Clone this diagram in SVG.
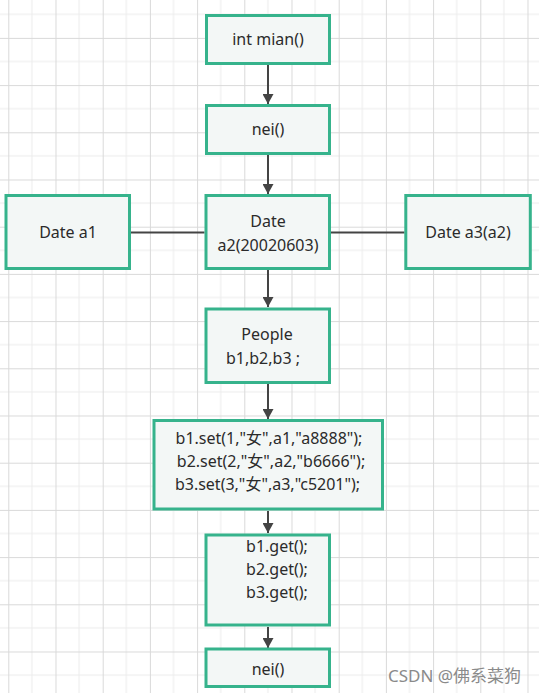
<svg xmlns="http://www.w3.org/2000/svg" width="539" height="693" viewBox="0 0 539 693">
  <style>
    .box { fill: #f3f7f6; stroke: #36b38c; stroke-width: 3; }
    .t { font-family: "Noto Sans", "Noto Sans CJK SC", sans-serif; font-size: 16px; fill: #2b2b2b; text-anchor: middle; }
    .edge { stroke: #444444; stroke-width: 2; fill: none; }
    .wm { font-family: "Noto Sans", "Noto Sans CJK SC", sans-serif; font-size: 17px; fill: #8a8a8a; }
  </style>
  <defs>
    <pattern id="grid" patternUnits="userSpaceOnUse" x="8.3" y="-9.3" width="47.2" height="47.2">
      <path d="M23.6 0 V47.2 M0 23.6 H47.2" stroke="#ebebeb" stroke-width="1" fill="none"/>
      <path d="M0.5 0 V47.2 M0 0.5 H47.2" stroke="#d9d9d9" stroke-width="1" fill="none"/>
    </pattern>
    <marker id="arrow" markerUnits="userSpaceOnUse" markerWidth="12" markerHeight="11" refX="10" refY="5.5" orient="auto">
      <path d="M0 0 L10 5.5 L0 11 Z" fill="#444444"/>
    </marker>
  </defs>
  <rect x="0" y="0" width="539" height="693" fill="#ffffff"/>
  <rect x="0" y="0" width="539" height="693" fill="url(#grid)"/>

  <g id="connectors">
    <line class="edge" x1="268" y1="65" x2="268" y2="104" marker-end="url(#arrow)"/>
    <line class="edge" x1="268" y1="155" x2="268" y2="194" marker-end="url(#arrow)"/>
    <line class="edge" x1="268" y1="270" x2="268" y2="307" marker-end="url(#arrow)"/>
    <line class="edge" x1="268" y1="384" x2="268" y2="419" marker-end="url(#arrow)"/>
    <line class="edge" x1="268" y1="511" x2="268" y2="533" marker-end="url(#arrow)"/>
    <line class="edge" x1="268" y1="627" x2="268" y2="648" marker-end="url(#arrow)"/>
    <line class="edge" x1="131" y1="232.5" x2="204.5" y2="232.5"/>
    <line class="edge" x1="331" y1="232.5" x2="404.5" y2="232.5"/>
  </g>

  <g id="node-main">
    <rect class="box" x="206.5" y="15.5" width="123" height="48"/>
    <text class="t" x="268" y="45">int mian()</text>
  </g>
  <g id="node-nei1">
    <rect class="box" x="206.5" y="105.5" width="123" height="48"/>
    <text class="t" x="268" y="135">nei()</text>
  </g>
  <g id="node-a1">
    <rect class="box" x="6" y="195.5" width="123.5" height="73"/>
    <text class="t" x="68" y="238">Date a1</text>
  </g>
  <g id="node-a2">
    <rect class="box" x="206" y="195.5" width="123.5" height="73"/>
    <text class="t" x="268" y="226.5">Date</text>
    <text class="t" x="268" y="250.5">a2(20020603)</text>
  </g>
  <g id="node-a3">
    <rect class="box" x="405.8" y="195.5" width="124.5" height="73"/>
    <text class="t" x="468" y="238">Date a3(a2)</text>
  </g>
  <g id="node-people">
    <rect class="box" x="206" y="309" width="123.5" height="73.5"/>
    <text class="t" x="267" y="340">People</text>
    <text class="t" x="263" y="364">b1,b2,b3 ;</text>
  </g>
  <g id="node-set">
    <rect class="box" x="154" y="420.5" width="228.5" height="88.5"/>
    <text class="t" x="269" y="443.5">b1.set(1,"女",a1,"a8888");</text>
    <text class="t" x="271" y="467">b2.set(2,"女",a2,"b6666");</text>
    <text class="t" x="267.5" y="490">b3.set(3,"女",a3,"c5201");</text>
  </g>
  <g id="node-get">
    <rect class="box" x="206" y="535" width="123.5" height="90"/>
    <text class="t" x="277" y="552">b1.get();</text>
    <text class="t" x="277" y="575">b2.get();</text>
    <text class="t" x="277" y="598">b3.get();</text>
  </g>
  <g id="node-nei2">
    <rect class="box" x="206" y="649" width="123.5" height="37.5"/>
    <text class="t" x="268" y="675">nei()</text>
  </g>

  <text class="wm" x="388" y="682">CSDN @佛系菜狗</text>
</svg>
